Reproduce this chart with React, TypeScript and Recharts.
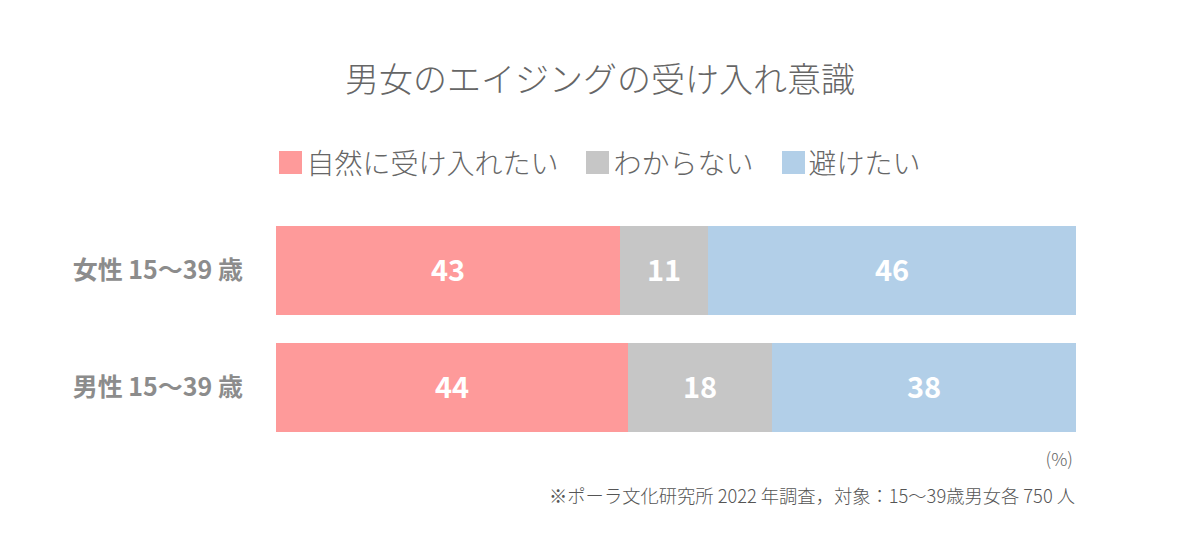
import React from "react";
import { BarChart, Bar, XAxis, YAxis, LabelList } from "recharts";

const categories = ["女性 15〜39 歳", "男性 15〜39 歳"];
const accept = [43, 44];
const unknown = [11, 18];
const avoid = [46, 38];
const seriesNames = ["自然に受け入れたい", "わからない", "避けたい"];
const colors = ["#FE9A9A", "#C6C6C6", "#B2CFE8"];

const data = categories.map((c, i) => ({
  name: c,
  accept: accept[i],
  unknown: unknown[i],
  avoid: avoid[i],
}));

const FONT = '"Noto Sans CJK JP", "Noto Sans", sans-serif';

export default function App() {
  return (
    <div style={{ position: "absolute", left: 0, top: 0, width: 1200, height: 538, background: "#fff", fontFamily: FONT }}>
      <div style={{ position: "absolute", top: 53, left: 0, width: 1200, textAlign: "center", fontSize: 34, color: "#666", fontWeight: 300 }}>
        男女のエイジングの受け入れ意識
      </div>
      <div style={{ position: "absolute", top: 144, left: 0, width: 1200, display: "flex", justifyContent: "center", alignItems: "center" }}>
        {seriesNames.map((n, i) => (
          <div key={n} style={{ display: "flex", alignItems: "center", marginRight: i < 2 ? 28 : 0 }}>
            <div style={{ width: 23, height: 23, background: colors[i], marginRight: 4 }} />
            <span style={{ fontSize: 28, color: "#666", fontWeight: 300, lineHeight: "36px" }}>{n}</span>
          </div>
        ))}
      </div>
      <BarChart
        width={1200}
        height={538}
        data={data}
        layout="vertical"
        margin={{ top: 212, right: 124, bottom: 92, left: 0 }}
        style={{ position: "absolute", left: 0, top: 0 }}
      >
        <XAxis type="number" domain={[0, 100]} hide />
        <YAxis
          type="category"
          dataKey="name"
          width={276}
          axisLine={false}
          tickLine={false}
          tickSize={0}
          tickMargin={33}
          tick={{ fill: "#8C8C8C", fontSize: 25, fontWeight: 700, fontFamily: FONT }}
        />
        <Bar dataKey="accept" stackId="a" fill={colors[0]} name={seriesNames[0]} barSize={89} isAnimationActive={false}>
          <LabelList dataKey="accept" position="center" fill="#fff" fontSize={29} fontWeight={700} fontFamily={FONT} />
        </Bar>
        <Bar dataKey="unknown" stackId="a" fill={colors[1]} name={seriesNames[1]} barSize={89} isAnimationActive={false}>
          <LabelList dataKey="unknown" position="center" fill="#fff" fontSize={29} fontWeight={700} fontFamily={FONT} />
        </Bar>
        <Bar dataKey="avoid" stackId="a" fill={colors[2]} name={seriesNames[2]} barSize={89} isAnimationActive={false}>
          <LabelList dataKey="avoid" position="center" fill="#fff" fontSize={29} fontWeight={700} fontFamily={FONT} />
        </Bar>
      </BarChart>
      <div style={{ position: "absolute", top: 445, right: 127, fontSize: 18, color: "#666", fontWeight: 300 }}>(%)</div>
      <div style={{ position: "absolute", top: 482, right: 125, fontSize: 18.3, color: "#555", fontWeight: 300, whiteSpace: "nowrap" }}>
        ※ポーラ文化研究所 2022 年調査，対象：15〜39歳男女各 750 人
      </div>
    </div>
  );
}
